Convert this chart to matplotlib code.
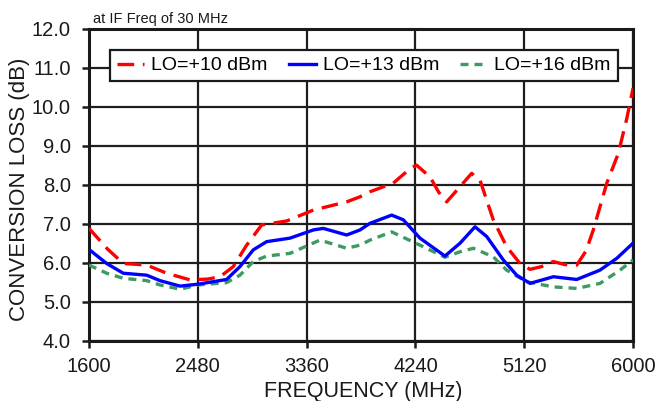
import matplotlib
matplotlib.use("Agg")
import matplotlib.pyplot as plt
from matplotlib.ticker import FormatStrFormatter

plt.rcParams["font.family"] = ["Liberation Sans", "DejaVu Sans"]

# Conversion loss vs. RF frequency for three LO drive levels
freq_lo10 = [1600, 1750, 1877, 2067, 2228, 2417, 2560, 2660, 2767, 2875, 2997,
             3199, 3415, 3684, 3792, 3873, 4061, 4200, 4250, 4358, 4430, 4493,
             4601, 4695, 4762, 4870, 4978, 5086, 5167, 5260, 5356, 5450, 5545,
             5620, 5679, 5788, 5881, 5950, 6000]
loss_lo10 = [6.88, 6.35, 5.98, 5.94, 5.73, 5.56, 5.58, 5.64, 5.90, 6.45, 6.97,
             7.07, 7.35, 7.56, 7.69, 7.82, 8.04, 8.42, 8.50, 8.20, 7.80, 7.56,
             7.95, 8.29, 8.12, 7.10, 6.41, 5.98, 5.83, 5.90, 6.03, 5.95, 5.94,
             6.30, 6.84, 8.04, 8.80, 9.70, 10.47]

freq_lo13 = [1600, 1743, 1877, 2067, 2174, 2336, 2484, 2713, 2821, 2929, 3037,
             3226, 3415, 3495, 3684, 3792, 3873, 4048, 4142, 4277, 4479, 4601,
             4722, 4817, 4951, 5059, 5167, 5356, 5545, 5733, 5868, 6000]
loss_lo13 = [6.34, 5.98, 5.73, 5.68, 5.54, 5.40, 5.45, 5.57, 5.90, 6.33, 6.54,
             6.63, 6.84, 6.88, 6.71, 6.84, 7.01, 7.22, 7.10, 6.63, 6.17, 6.50,
             6.92, 6.67, 6.07, 5.68, 5.47, 5.64, 5.57, 5.81, 6.11, 6.50]

freq_lo16 = [1600, 1743, 1877, 2067, 2174, 2336, 2484, 2713, 2821, 2929, 3037,
             3226, 3468, 3684, 3792, 3873, 4048, 4277, 4479, 4601, 4709, 4870,
             4978, 5140, 5356, 5545, 5733, 5895, 6000]
loss_lo16 = [5.94, 5.73, 5.60, 5.54, 5.43, 5.32, 5.43, 5.49, 5.68, 6.03, 6.17,
             6.24, 6.58, 6.37, 6.45, 6.58, 6.79, 6.45, 6.14, 6.28, 6.37, 6.15,
             5.81, 5.51, 5.38, 5.34, 5.47, 5.81, 6.07]

series_labels = ["LO=+10 dBm", "LO=+13 dBm", "LO=+16 dBm"]
x_ticks = [1600, 2480, 3360, 4240, 5120, 6000]
y_ticks = [4.0, 5.0, 6.0, 7.0, 8.0, 9.0, 10.0, 11.0, 12.0]

fig = plt.figure(figsize=(6.6, 4.01), dpi=100)
ax = fig.add_axes([89 / 660, 1 - 340.7 / 401, 544 / 660, 312 / 401])

ax.plot(freq_lo10, loss_lo10, color="#ff0000", lw=2.4, dashes=(5, 2.6),
        label=series_labels[0], zorder=3)
ax.plot(freq_lo13, loss_lo13, color="#0000ff", lw=2.4,
        label=series_labels[1], zorder=4)
ax.plot(freq_lo16, loss_lo16, color="#3d9a62", lw=2.4, dashes=(2.4, 1.8),
        label=series_labels[2], zorder=3)

ax.set_xlim(1600, 6000)
ax.set_ylim(4.0, 12.0)
ax.set_xticks(x_ticks)
ax.set_yticks(y_ticks)
ax.yaxis.set_major_formatter(FormatStrFormatter("%.1f"))
ax.grid(True, color="#1e1e1e", lw=1.6, zorder=1)
ax.set_axisbelow(True)
for s in ax.spines.values():
    s.set_linewidth(2.2)
    s.set_color("#1a1a1a")
ax.tick_params(axis="both", direction="out", length=5, width=1.8,
               color="#1a1a1a", labelsize=14.5, labelcolor="#1a1a1a")
ax.tick_params(axis="y", pad=8)
ax.tick_params(axis="x", pad=7)

ax.set_xlabel("FREQUENCY (MHz)", fontsize=15.5, color="#1a1a1a", va="center")
ax.xaxis.set_label_coords(0.504, -0.164)
ax.set_ylabel("CONVERSION LOSS (dB)", fontsize=16, color="#1a1a1a", va="center")
ax.yaxis.set_label_coords(-0.127, 0.485)

fig.text(93 / 660, 1 - 19 / 401, "at IF Freq of 30 MHz", fontsize=10.5,
         color="#1a1a1a", ha="left", va="center")

leg = ax.legend(loc="upper left", bbox_to_anchor=(110 / 660, 1 - 50 / 401),
                bbox_transform=fig.transFigure, ncol=3, fontsize=14,
                frameon=True, fancybox=False, framealpha=1, borderaxespad=0,
                handlelength=1.4, handletextpad=0.35, columnspacing=1.1,
                borderpad=0.35)
leg.get_frame().set_edgecolor("#1a1a1a")
leg.get_frame().set_linewidth(1.6)
leg.set_zorder(5)

fig.savefig("out.png", dpi=100)
